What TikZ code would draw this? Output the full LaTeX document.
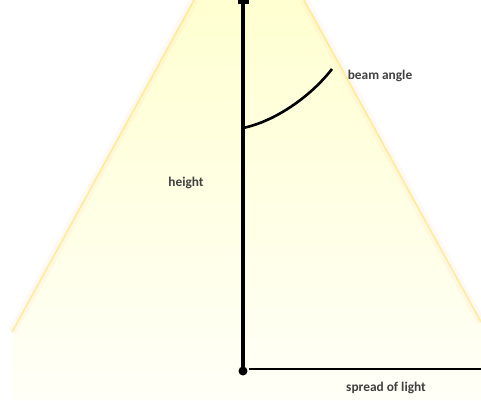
\documentclass[tikz,border=0pt]{standalone}
\usepackage{fontspec}
\setmainfont{Carlito}
\begin{document}
\begin{tikzpicture}[x=0.02cm,y=-0.02cm,font=\fontsize{7.6}{9}\selectfont\bfseries,
  lbl/.style={text=black!75,inner sep=1pt},
  glow/.style={line join=round}]
\useasboundingbox (0,0) rectangle (481,400);
% light beam
\shade[top color=yellow!18,bottom color=yellow!3] (194,0) -- (304,0) -- (481,322) -- (481,400) -- (12,400) -- (12,332) -- cycle;
\draw[glow,line width=5pt,orange!40,opacity=0.12] (12,332) -- (194,0);
\draw[glow,line width=5pt,orange!40,opacity=0.12] (304,0) -- (481,322);
\draw[glow,line width=1pt,yellow!70!orange,opacity=0.3] (12,332) -- (194,0);
\draw[glow,line width=1pt,yellow!70!orange,opacity=0.3] (304,0) -- (481,322);
% pole and ground
\coordinate (top) at (243,0);
\coordinate (foot) at (243,371);
\coordinate (corner) at (249,369);
\coordinate (far) at (481,369);
\fill[black] (238,0) rectangle (249,4);
\draw[line width=1.8pt] (top) -- (foot);
\fill[black] (foot) circle (4.5);
\draw[line width=0.8pt] (corner) -- (far);
% beam angle arc
\coordinate (a0) at (243,128);
\coordinate (a1) at (332,69);
\draw[line width=1.5pt] (a0) .. controls (276,121) and (311,96) .. (a1);
% labels
\node[lbl] (beam) at (380,76) {beam angle};
\node[lbl] (height) at (186,183) {height};
\node[lbl] (spread) at (386,388) {spread of light};
\end{tikzpicture}
\end{document}
